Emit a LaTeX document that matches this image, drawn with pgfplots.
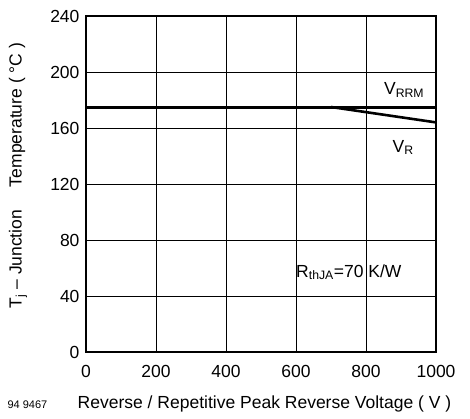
\documentclass[border=0pt]{standalone}
\usepackage{pgfplots}
\pgfplotsset{compat=1.18}
\usepackage{fontspec}
\setmainfont{Liberation Sans}
\begin{document}
\begin{tikzpicture}
\begin{axis}[
  scale only axis,
  width=350pt, height=336pt,
  xmin=0, xmax=1000, ymin=0, ymax=240,
  xtick={0,200,...,1000}, ytick={0,40,...,240},
  grid=major,
  major grid style={black, line width=0.8pt},
  axis line style={black, line width=1.8pt},
  tick style={draw=none},
  /pgf/number format/assume math mode=true,
  /pgf/number format/set thousands separator={},
  ticklabel style={font=\fontsize{17.5}{19}\selectfont},
  xticklabel style={yshift=-10pt},
  yticklabel style={xshift=-3pt},
  xlabel={Reverse / Repetitive Peak Reverse Voltage ( V )},
  xlabel style={font=\fontsize{17.5}{19}\selectfont, at={(rel axis cs:0.51,0)}, anchor=center, yshift=-52pt},
  ylabel={T\textsubscript{j} -- Junction\hspace{1.3em}Temperature ( °C )},
  ylabel style={font=\fontsize{17.5}{19}\selectfont, at={(rel axis cs:0,0.525)}, anchor=center, yshift=68pt},
  clip=false,
]
\addplot[black, line width=3pt] coordinates {(0,175) (1000,175)};
\addplot[black, line width=2.6pt] coordinates {(700,175) (1000,164)};
\node[font=\fontsize{17.5}{19}\selectfont] at (axis cs:909,187) {V\textsubscript{RRM}};
\node[font=\fontsize{17.5}{19}\selectfont] at (axis cs:906,146) {V\textsubscript{R}};
\node[font=\fontsize{17.5}{19}\selectfont] at (axis cs:751,57) {R\textsubscript{thJA}=70 K/W};
\node[font=\fontsize{11}{13}\selectfont, anchor=west] at ([xshift=-82pt,yshift=-53pt]rel axis cs:0,0) {94 9467};
\end{axis}
\path (current axis.south west) ++(-86pt,-66pt) rectangle ++(470pt,418pt);
\end{tikzpicture}
\end{document}
